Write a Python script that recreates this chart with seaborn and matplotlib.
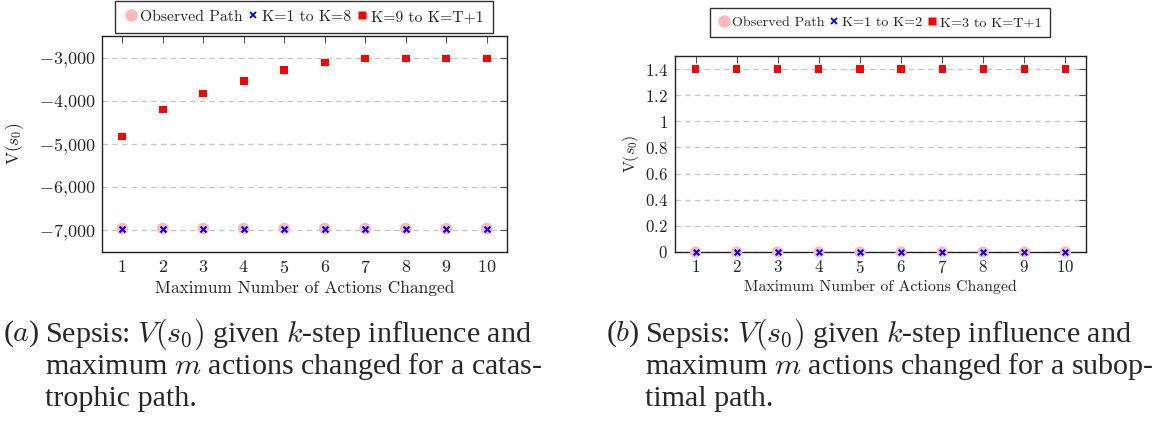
import matplotlib
matplotlib.use("Agg")
import matplotlib.pyplot as plt
import seaborn as sns
import pandas as pd
from matplotlib.lines import Line2D

# ---- data ----
steps = [1, 2, 3, 4, 5, 6, 7, 8, 9, 10]
a_observed = [-6960, -6960, -6960, -6960, -6960, -6960, -6960, -6960, -6960, -6960]
a_k_low = [-6960, -6960, -6960, -6960, -6960, -6960, -6960, -6960, -6960, -6960]
a_k_high = [-4830, -4200, -3830, -3540, -3290, -3110, -3020, -3020, -3020, -3020]
a_labels = ["Observed Path", "K=1 to K=8", "K=9 to K=T+1"]
a_yticks = [-7000, -6000, -5000, -4000, -3000]
a_yticklabels = [r"$-7{,}000$", r"$-6{,}000$", r"$-5{,}000$", r"$-4{,}000$", r"$-3{,}000$"]

b_observed = [0, 0, 0, 0, 0, 0, 0, 0, 0, 0]
b_k_low = [0, 0, 0, 0, 0, 0, 0, 0, 0, 0]
b_k_high = [1.4, 1.4, 1.4, 1.4, 1.4, 1.4, 1.4, 1.4, 1.4, 1.4]
b_labels = ["Observed Path", "K=1 to K=2", "K=3 to K=T+1"]
b_yticks = [0, 0.2, 0.4, 0.6, 0.8, 1.0, 1.2, 1.4]
b_yticklabels = ["$0$", "$0.2$", "$0.4$", "$0.6$", "$0.8$", "$1$", "$1.2$", "$1.4$"]

xticklabels = [f"${v}$" for v in steps]
xlabel = "Maximum Number of Actions Changed"
ylabel = r"V($s_0$)"

cap_a_tag = r"($a$)"
cap_a = [r"Sepsis: $V(s_0)$ given $k$-step influence and",
         r"maximum $m$ actions changed for a catas-",
         "trophic path."]
cap_b_tag = r"($b$)"
cap_b = [r"Sepsis: $V(s_0)$ given $k$-step influence and",
         r"maximum $m$ actions changed for a subop-",
         "timal path."]

sns.set_style("white")
plt.rcParams["font.family"] = ["cmr10"]
plt.rcParams["mathtext.fontset"] = "cm"
plt.rcParams["axes.formatter.use_mathtext"] = True

W, H = 1164, 423
fig = plt.figure(figsize=(W / 100, H / 100), dpi=100)

PINK = "#ffb8b8"
BLUE = "#0000ff"
RED = "#ff0000"


def px_axes(l, t, r, b):
    return fig.add_axes([l / W, 1 - b / H, (r - l) / W, (b - t) / H])


def draw(ax, obs, low, high, labels, yticks, yticklabels, ylim, leg_center, ylab_x,
         fs_tick, fs_lab, fs_leg, bpad, msc=1.0):
    df = pd.DataFrame({"x": steps, "obs": obs, "low": low, "high": high})
    sns.scatterplot(data=df, x="x", y="obs", ax=ax, color=PINK, s=72 * msc, marker="o",
                    edgecolor="none", zorder=3, clip_on=False)
    sns.scatterplot(data=df, x="x", y="low", ax=ax, color=BLUE, s=18 * msc, marker="x",
                    linewidth=1.5, zorder=4, clip_on=False)
    sns.scatterplot(data=df, x="x", y="high", ax=ax, color=RED, s=30 * msc, marker="s",
                    edgecolor="none", zorder=4, clip_on=False)
    ax.set_xlim(0.5, 10.5)
    ax.set_ylim(*ylim)
    ax.set_xticks(steps)
    ax.set_xticklabels(xticklabels, fontsize=fs_tick)
    ax.set_yticks(yticks)
    ax.set_yticklabels(yticklabels, fontsize=fs_tick)
    ax.tick_params(direction="in", top=True, right=True, length=5, width=0.8,
                   color="#555555", pad=5)
    ax.grid(axis="y", linestyle=(0, (4, 3)), color="#c8c8c8", linewidth=1.0)
    ax.set_axisbelow(True)
    for sp in ax.spines.values():
        sp.set_color("#222222")
        sp.set_linewidth(1.0)
    ax.set_xlabel(xlabel, fontsize=fs_lab, labelpad=3)
    ax.set_ylabel(ylabel, fontsize=fs_lab)
    ax.yaxis.set_label_coords(ylab_x, 0.5)
    handles = [
        Line2D([], [], linestyle="none", marker="o", markersize=9, color=PINK, markeredgecolor="none"),
        Line2D([], [], linestyle="none", marker="x", markersize=5, color=BLUE, markeredgewidth=1.3),
        Line2D([], [], linestyle="none", marker="s", markersize=6, color=RED, markeredgecolor="none"),
    ]
    leg = fig.legend(handles, labels, ncol=3, loc="center",
                     bbox_to_anchor=(leg_center[0] / W, 1 - leg_center[1] / H),
                     fontsize=fs_leg, frameon=True, fancybox=False, handlelength=0.8,
                     handletextpad=0.15, columnspacing=0.3, borderpad=bpad,
                     borderaxespad=0)
    leg.get_frame().set_edgecolor("black")
    leg.get_frame().set_linewidth(1.0)


ax1 = px_axes(102, 36, 507, 252)
draw(ax1, a_observed, a_k_low, a_k_high, a_labels, a_yticks, a_yticklabels,
     (-7500, -2500), (304, 17), (26 - 102) / 405, 13, 12.5, 11.3, 0.6)

ax2 = px_axes(675, 56, 1086, 252)
draw(ax2, b_observed, b_k_low, b_k_high, b_labels, b_yticks, b_yticklabels,
     (0, 1.5), (880, 22.5), (641 - 675) / 411, 12.2, 11.4, 10.2, 0.55, 0.9)

CAP_FS = 21.6
for tag, lines, x_txt in [(cap_a_tag, cap_a, 45), (cap_b_tag, cap_b, 645)]:
    fig.text((x_txt - 5) / W, 1 - 334 / H, tag, fontsize=CAP_FS, family="Liberation Serif",
             va="center", ha="right")
    for i, line in enumerate(lines):
        fig.text(x_txt / W, 1 - (334 + 32.5 * i) / H, line, fontsize=CAP_FS,
                 family="Liberation Serif", va="center", ha="left")

fig.savefig("out.png", dpi=100)
